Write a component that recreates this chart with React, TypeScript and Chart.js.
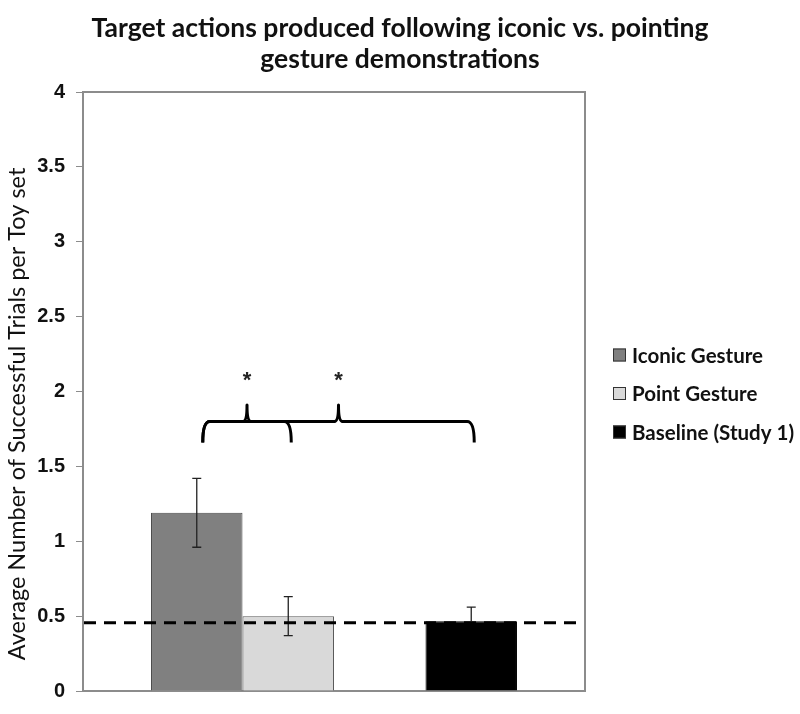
import React, { useEffect, useRef } from 'react';
import { Chart, registerables } from 'chart.js';

Chart.register(...registerables);

// ---------- data ----------
const chartTitle = ['Target actions produced following iconic vs. pointing', 'gesture demonstrations'];
const yAxisTitle = 'Average Number of Successful Trials per Toy set';
const categories = [''];
const seriesNames = ['Iconic Gesture', 'Point Gesture', '', 'Baseline (Study 1)'];
const seriesMeans: (number | null)[] = [1.19, 0.5, null, 0.465];
const errorLow: (number | null)[] = [0.96, 0.37, null, 0.465];
const errorHigh: (number | null)[] = [1.42, 0.63, null, 0.56];
const seriesColors = ['#808080', '#d9d9d9', 'rgba(0,0,0,0)', '#000000'];
const seriesBorders = ['#4a4a4a', '#5a5a5a', 'rgba(0,0,0,0)', '#000000'];
const yMin = 0;
const yMax = 4;
const yStep = 0.5;
const baselineReference = 0.455;
const comparisons = [
  { from: 0, to: 1, label: '*' },
  { from: 0, to: 3, label: '*' },
];
const braceLevel = 1.8;
const braceEndLevel = 1.66;
const bracePeakLevel = 1.91;
const starLevel = 2.1;

// ---------- plugins ----------
const frameColor = '#8c8c8c';

const titlePlugin = {
  id: 'customTitle',
  afterDraw(chart: any) {
    const { ctx, width } = chart;
    ctx.save();
    ctx.fillStyle = '#111111';
    ctx.font = 'bold 26.5px Lato, sans-serif';
    ctx.textAlign = 'center';
    ctx.textBaseline = 'middle';
    chartTitle.forEach((line, i) => {
      ctx.fillText(line, width / 2, 28 + i * 31);
    });
    // y-axis title
    ctx.font = '23.5px Lato, sans-serif';
    ctx.translate(17, 414);
    ctx.rotate(-Math.PI / 2);
    ctx.fillText(yAxisTitle, 0, 0);
    ctx.restore();
  },
};

const framePlugin = {
  id: 'frame',
  beforeDatasetsDraw(chart: any) {
    const { ctx, chartArea: a } = chart;
    ctx.save();
    ctx.strokeStyle = frameColor;
    ctx.lineWidth = 2;
    ctx.strokeRect(a.left, a.top, a.right - a.left, a.bottom - a.top);
    ctx.restore();
  },
};

const errorBarPlugin = {
  id: 'errorBars',
  afterDatasetsDraw(chart: any) {
    const { ctx } = chart;
    const y = chart.scales.y;
    ctx.save();
    ctx.strokeStyle = '#222222';
    ctx.lineWidth = 1.3;
    seriesMeans.forEach((v, i) => {
      if (v === null || errorLow[i] === null || errorHigh[i] === null) return;
      const bar = chart.getDatasetMeta(i).data[0];
      if (!bar) return;
      const x = bar.x;
      const yl = y.getPixelForValue(errorLow[i]);
      const yh = y.getPixelForValue(errorHigh[i]);
      ctx.beginPath();
      ctx.moveTo(x, yl);
      ctx.lineTo(x, yh);
      if ((errorLow[i] as number) < v) {
        ctx.moveTo(x - 4.5, yl);
        ctx.lineTo(x + 4.5, yl);
      }
      ctx.moveTo(x - 4.5, yh);
      ctx.lineTo(x + 4.5, yh);
      ctx.stroke();
    });
    ctx.restore();
  },
};

const referenceLinePlugin = {
  id: 'referenceLine',
  afterDatasetsDraw(chart: any) {
    const { ctx, chartArea: a } = chart;
    const yp = chart.scales.y.getPixelForValue(baselineReference);
    ctx.save();
    ctx.strokeStyle = '#000000';
    ctx.lineWidth = 3;
    ctx.setLineDash([12, 8]);
    ctx.beginPath();
    ctx.moveTo(a.left + 1, yp);
    ctx.lineTo(a.right - 1, yp);
    ctx.stroke();
    ctx.restore();
  },
};

const bracePlugin = {
  id: 'braces',
  afterDatasetsDraw(chart: any) {
    const { ctx } = chart;
    const y = chart.scales.y;
    const yb = y.getPixelForValue(braceLevel);
    const ye = y.getPixelForValue(braceEndLevel);
    const yp = y.getPixelForValue(bracePeakLevel);
    const ys = y.getPixelForValue(starLevel);
    ctx.save();
    ctx.strokeStyle = '#000000';
    ctx.lineWidth = 3;
    ctx.lineJoin = 'round';
    comparisons.forEach((c) => {
      const b1 = chart.getDatasetMeta(c.from).data[0];
      const b2 = chart.getDatasetMeta(c.to).data[0];
      if (!b1 || !b2) return;
      const x1 = b1.x + 6;
      const x2 = b2.x + 3;
      const xm = (x1 + x2) / 2;
      ctx.beginPath();
      ctx.moveTo(x1, ye);
      ctx.quadraticCurveTo(x1, yb, x1 + 7, yb);
      ctx.lineTo(xm - 4, yb);
      ctx.quadraticCurveTo(xm, yb, xm, yp);
      ctx.quadraticCurveTo(xm, yb, xm + 4, yb);
      ctx.lineTo(x2 - 7, yb);
      ctx.quadraticCurveTo(x2, yb, x2, ye);
      ctx.stroke();

      ctx.fillStyle = '#222222';
      ctx.font = 'bold 22px "Liberation Sans", Arial, sans-serif';
      ctx.textAlign = 'center';
      ctx.textBaseline = 'alphabetic';
      const m = ctx.measureText(c.label);
      ctx.fillText(c.label, xm, ys + (m.actualBoundingBoxAscent - m.actualBoundingBoxDescent) / 2);
    });
    ctx.restore();
  },
};

const legendPlugin = {
  id: 'sideLegend',
  afterDraw(chart: any) {
    const { ctx, chartArea: a } = chart;
    const items = chart.data.datasets
      .map((d: any, i: number) => ({ label: d.label, color: seriesColors[i] }))
      .filter((it: any) => it.label);
    const spacing = 38.5;
    const cy = (a.top + a.bottom) / 2 + 2;
    const startY = cy - ((items.length - 1) * spacing) / 2;
    const boxX = a.right + 28;
    const size = 13;
    ctx.save();
    items.forEach((it: any, k: number) => {
      const yc = startY + k * spacing;
      ctx.fillStyle = it.color;
      ctx.fillRect(boxX, yc - size / 2, size, size);
      ctx.strokeStyle = '#333333';
      ctx.lineWidth = 1;
      ctx.strokeRect(boxX + 0.5, yc - size / 2 + 0.5, size - 1, size - 1);
      ctx.fillStyle = '#111111';
      ctx.font = 'bold 20.5px Lato, sans-serif';
      ctx.textAlign = 'left';
      ctx.textBaseline = 'middle';
      ctx.fillText(it.label, boxX + 19, yc + 1);
    });
    ctx.restore();
  },
};

export default function App() {
  const canvasRef = useRef<HTMLCanvasElement | null>(null);

  useEffect(() => {
    document.body.style.margin = '0';
    const canvas = canvasRef.current;
    if (!canvas) return;
    const chart = new Chart(canvas, {
      type: 'bar',
      data: {
        labels: categories,
        datasets: seriesNames.map((name, i) => ({
          label: name,
          data: [seriesMeans[i]],
          backgroundColor: seriesColors[i],
          borderColor: seriesBorders[i],
          borderWidth: 1,
          categoryPercentage: 0.729,
          barPercentage: 1,
        })),
      },
      options: {
        animation: false,
        responsive: false,
        devicePixelRatio: 1,
        layout: { padding: { left: 0, right: 215, top: 92, bottom: 14 } },
        plugins: {
          legend: { display: false },
          tooltip: { enabled: false },
          title: { display: false },
        },
        scales: {
          x: { display: false },
          y: {
            min: yMin,
            max: yMax,
            ticks: {
              stepSize: yStep,
              color: '#111111',
              font: { family: '"Liberation Sans", Arial, sans-serif', size: 20, weight: 'bold' },
              padding: 11,
              callback: (v: any) => String(v),
            },
            grid: {
              display: true,
              drawOnChartArea: false,
              drawTicks: true,
              tickLength: 7,
              color: frameColor,
              lineWidth: 1,
            },
            border: { display: true, color: frameColor, width: 2 },
            title: { display: false },
            afterFit: (s: any) => {
              s.width = 83;
            },
          },
        },
      },
      plugins: [titlePlugin, framePlugin, errorBarPlugin, referenceLinePlugin, bracePlugin, legendPlugin],
    } as any);
    return () => chart.destroy();
  }, []);

  return (
    <div style={{ width: 800, height: 714, background: '#ffffff' }}>
      <canvas ref={canvasRef} width={800} height={714} />
    </div>
  );
}
